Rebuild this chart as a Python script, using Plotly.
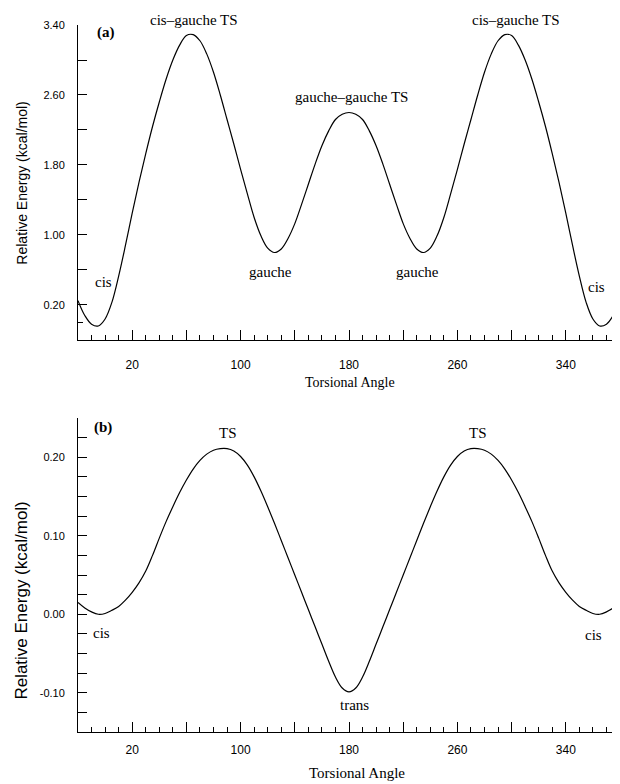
import plotly.graph_objects as go

# ---- Data ----
angle_a = [-20, -15, -10, -5, 0, 5, 10, 15, 20, 25, 30, 35, 40, 45, 50, 55, 60, 65, 70, 75, 80, 85, 90, 95, 100,
           105, 110, 115, 120, 125, 130, 135, 140, 145, 150, 155, 160, 165, 170, 175, 180,
           185, 190, 195, 200, 205, 210, 215, 220, 225, 230, 235, 240, 245, 250, 255, 260, 265, 270, 275, 280,
           285, 290, 295, 300, 305, 310, 315, 320, 325, 330, 335, 340, 345, 350, 355, 360, 365, 370, 375, 380]
energy_a = [0.25, 0.08, -0.02, -0.04, 0.04, 0.23, 0.53, 0.88, 1.25, 1.60, 1.93, 2.24, 2.52, 2.78, 3.00, 3.17, 3.28, 3.29, 3.22, 3.07, 2.86, 2.60, 2.32, 2.04, 1.75,
            1.47, 1.20, 0.99, 0.85, 0.80, 0.84, 0.96, 1.13, 1.35, 1.58, 1.81, 2.02, 2.19, 2.32, 2.38, 2.40,
            2.38, 2.32, 2.19, 2.02, 1.81, 1.58, 1.35, 1.13, 0.96, 0.84, 0.80, 0.85, 0.99, 1.20, 1.47, 1.75, 2.04, 2.32, 2.60, 2.86,
            3.07, 3.22, 3.29, 3.28, 3.17, 3.00, 2.78, 2.52, 2.24, 1.93, 1.60, 1.25, 0.88, 0.53, 0.23, 0.04, -0.04, -0.02, 0.08, 0.25]

angle_b = angle_a
energy_b = [0.015, 0.008, 0.003, 0.0, 0.001, 0.005, 0.010, 0.018, 0.028, 0.040, 0.055, 0.075, 0.097, 0.118, 0.137, 0.155, 0.171, 0.185, 0.196, 0.204, 0.209, 0.211, 0.211, 0.208, 0.201,
            0.190, 0.175, 0.157, 0.137, 0.116, 0.094, 0.072, 0.050, 0.028, 0.006, -0.016, -0.038, -0.060, -0.080, -0.094, -0.099,
            -0.094, -0.080, -0.060, -0.038, -0.016, 0.006, 0.028, 0.050, 0.072, 0.094, 0.116, 0.137, 0.157, 0.175, 0.190, 0.201, 0.208, 0.211, 0.211, 0.209,
            0.204, 0.196, 0.185, 0.171, 0.155, 0.137, 0.118, 0.097, 0.075, 0.055, 0.040, 0.028, 0.018, 0.010, 0.005, 0.001, 0.0, 0.003, 0.008, 0.015]

x_tickvals = [20, 60, 100, 140, 180, 220, 260, 300, 340]
x_ticktext = ["20", "", "100", "", "180", "", "260", "", "340"]
ya_tickvals = [0.2, 0.6, 1.0, 1.4, 1.8, 2.2, 2.6, 3.0, 3.4]
ya_ticktext = ["0.20", "", "1.00", "", "1.80", "", "2.60", "", "3.40"]
yb_tickvals = [-0.125, -0.10, -0.075, -0.05, -0.025, 0.0, 0.025, 0.05, 0.075, 0.10, 0.125, 0.15, 0.175, 0.20, 0.225, 0.25]
yb_ticktext = ["", "-0.10", "", "", "", "0.00", "", "", "", "0.10", "", "", "", "0.20", "", ""]

labels_a = [("gauche\u2013gauche TS", 182.2, 2.577), ("gauche", 121.7, 0.577), ("gauche", 230.9, 0.577),
            ("cis", -1.5, 0.463), ("cis", 363.0, 0.406)]
labels_a_top = [("cis\u2013gauche TS", 65.6), ("cis\u2013gauche TS", 303.2)]
labels_b = [("TS", 90.7, 0.231), ("TS", 275.2, 0.231), ("cis", -2.3, -0.024), ("cis", 360.1, -0.0264),
            ("trans", 184.4, -0.1156)]

SERIF = "Liberation Serif"
SANS = "Liberation Sans"

fig = go.Figure()
fig.add_trace(go.Scatter(x=angle_a, y=energy_a, mode="lines", line=dict(color="black", width=1.2, shape="spline", smoothing=1.0),
                         xaxis="x", yaxis="y", showlegend=False, hoverinfo="skip"))
fig.add_trace(go.Scatter(x=angle_b, y=energy_b, mode="lines", line=dict(color="black", width=1.2, shape="spline", smoothing=1.0),
                         xaxis="x2", yaxis="y2", showlegend=False, hoverinfo="skip"))

xcommon = dict(range=[-20, 380], showgrid=False, zeroline=False, showline=True, linecolor="black", linewidth=1,
               ticks="inside", ticklen=10, tickcolor="black", tickmode="array", tickvals=x_tickvals, ticktext=x_ticktext,
               tickfont=dict(family=SANS, size=12, color="black"),
               minor=dict(tickmode="linear", tick0=0, dtick=10, ticks="inside", ticklen=5, tickcolor="black"))
ycommon = dict(showgrid=False, zeroline=False, showline=True, linecolor="black", linewidth=1,
               ticks="inside", ticklen=9, tickcolor="black", tickmode="array",
               tickfont=dict(family=SANS, size=11, color="black"))

# page body has an 8px default margin, so the figure is sized/margined to land the plot where the reference has it
fig.update_layout(
    width=612, height=776,
    margin=dict(l=70, r=0, t=17, b=52),
    paper_bgcolor="white", plot_bgcolor="white",
    xaxis=dict(**xcommon, domain=[0, 1], anchor="y", ticklabelstandoff=14),
    yaxis=dict(**ycommon, range=[-0.2, 3.4], domain=[0.5545, 1.0], anchor="x", tickvals=ya_tickvals, ticktext=ya_ticktext,
               minor=dict(tickmode="array", tickvals=[0.0], ticks="inside", ticklen=5, tickcolor="black"), ticklabelstandoff=10),
    xaxis2=dict(**xcommon, domain=[0, 1], anchor="y2", ticklabelstandoff=7),
    yaxis2=dict(**ycommon, range=[-0.15, 0.25], domain=[0.0, 0.4441], anchor="x2", tickvals=yb_tickvals, ticktext=yb_ticktext,
                ticklabelstandoff=10),
)

lab_font = dict(family=SERIF, size=15, color="black")
annotations = []
for t, x, y in labels_a:
    annotations.append(dict(text=t, x=x, y=y, xref="x", yref="y", showarrow=False, xanchor="center", yanchor="middle", font=lab_font))
for t, x in labels_a_top:
    annotations.append(dict(text=t, x=x, y=1.016, xref="x", yref="y domain", showarrow=False, xanchor="center", yanchor="middle", font=lab_font))
for t, x, y in labels_b:
    annotations.append(dict(text=t, x=x, y=y, xref="x2", yref="y2", showarrow=False, xanchor="center", yanchor="middle", font=lab_font))
annotations += [
    dict(text="<b>(a)</b>", x=0.66, y=3.309, xref="x", yref="y", showarrow=False, xanchor="center", yanchor="middle", font=lab_font),
    dict(text="<b>(b)</b>", x=-1.5, y=0.2385, xref="x2", yref="y2", showarrow=False, xanchor="center", yanchor="middle", font=lab_font),
    dict(text="Relative Energy (kcal/mol)", x=-0.104, y=0.7765, xref="paper", yref="paper", textangle=-90, showarrow=False,
         xanchor="center", yanchor="middle", font=dict(family=SANS, size=14, color="black")),
    dict(text="Relative Energy (kcal/mol)", x=-0.104, y=0.1853, xref="paper", yref="paper", textangle=-90, showarrow=False,
         xanchor="center", yanchor="middle", font=dict(family=SANS, size=17, color="black")),
    dict(text="Torsional Angle", x=0.502, y=0.495, xref="paper", yref="paper", showarrow=False,
         xanchor="center", yanchor="middle", font=dict(family=SERIF, size=14, color="black")),
    dict(text="Torsional Angle", x=0.515, y=-0.058, xref="paper", yref="paper", showarrow=False,
         xanchor="center", yanchor="middle", font=dict(family=SERIF, size=15, color="black")),
]
fig.update_layout(annotations=annotations)

fig.write_html("out.html")
